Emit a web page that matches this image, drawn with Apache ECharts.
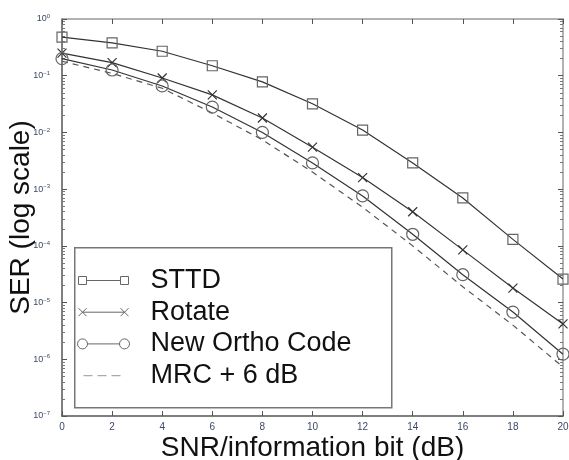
<!DOCTYPE html>
<html>
<head>
<meta charset="utf-8">
<script src="https://cdn.jsdelivr.net/npm/echarts@6/dist/echarts.min.js"></script>
<style>html,body{margin:0;padding:0;background:#fff}#c{width:569px;height:460px}</style>
</head>
<body>
<div id="c"></div>
<script>
const snr = [0, 2, 4, 6, 8, 10, 12, 14, 16, 18, 20];
const sttd = [0.48, 0.38, 0.27, 0.15, 0.078, 0.032, 0.011, 0.0029, 7.0e-4, 1.3e-4, 2.6e-5];
const rotate = [0.25, 0.17, 0.091, 0.046, 0.018, 0.0055, 0.0016, 4.0e-4, 8.5e-5, 1.8e-5, 4.2e-6];
const ortho = [0.2, 0.126, 0.066, 0.028, 0.010, 0.0029, 7.6e-4, 1.6e-4, 3.1e-5, 6.8e-6, 1.23e-6];
const mrc = [0.18, 0.11, 0.06, 0.022, 0.0074, 0.002, 4.8e-4, 1.0e-4, 1.9e-5, 4.0e-6, 7.3e-7];
const seriesNames = ['STTD', 'Rotate', 'New Ortho Code', 'MRC + 6 dB'];
const xTicks = [0, 2, 4, 6, 8, 10, 12, 14, 16, 18, 20];

const pair = arr => snr.map((x, i) => [x, arr[i]]);
const lineCol = '#333';
const markCol = '#666';
const tickCol = '#3d4868';
const font = 'Liberation Sans, Arial, sans-serif';

const chart = echarts.init(document.getElementById('c'), null, {renderer: 'canvas'});

function axisStyle(col) {
  return {
    axisLine: {show: true, onZero: false, lineStyle: {color: col, width: 1.5}},
    axisTick: {show: true, inside: true, length: 5, lineStyle: {color: '#555'}},
    splitLine: {show: false}
  };
}

const xMark = 'path://M0,0 L10,10 M0,10 L10,0';

chart.setOption({
  animation: false,
  backgroundColor: '#fff',
  grid: {left: 62, right: 6, top: 19, bottom: 44, containLabel: false, outerBoundsMode: 'none'},
  xAxis: [
    Object.assign({
      type: 'value', min: 0, max: 20, interval: 2,
      name: 'SNR/information bit (dB)', nameLocation: 'middle', nameGap: 18, nameMoveOverlap: false,
      nameTextStyle: {fontFamily: font, fontSize: 28, color: '#111'},
      axisLabel: {fontFamily: font, fontSize: 10, color: tickCol, margin: 6,
        formatter: v => xTicks.includes(v) ? String(v) : ''}
    }, axisStyle('#555')),
    Object.assign({
      type: 'value', min: 0, max: 20, interval: 2, position: 'top',
      axisLabel: {show: false}
    }, axisStyle('#999'))
  ],
  yAxis: [
    Object.assign({
      type: 'log', logBase: 10, min: 1e-7, max: 1, interval: 1,
      name: 'SER (log scale)', nameLocation: 'middle', nameGap: 27, nameMoveOverlap: false,
      nameTextStyle: {fontFamily: font, fontSize: 28, color: '#111'},
      minorTick: {show: true, splitNumber: 9, length: 3, lineStyle: {color: '#777'}},
      axisLabel: {
        margin: 12, fontFamily: font, color: tickCol,
        formatter: v => {
          const e = Math.round(Math.log10(v));
          return '{b|10}{s|' + (e === 0 ? '0' : '\u2212' + (-e)) + '}';
        },
        rich: {
          b: {fontFamily: font, fontSize: 9, color: tickCol},
          s: {fontFamily: font, fontSize: 6, color: tickCol, verticalAlign: 'top', padding: [0, 0, 5, 0]}
        }
      }
    }, axisStyle('#555')),
    Object.assign({
      type: 'log', logBase: 10, min: 1e-7, max: 1, interval: 1, position: 'right',
      minorTick: {show: true, splitNumber: 9, length: 3, lineStyle: {color: '#777'}},
      axisLabel: {show: false}
    }, axisStyle('#999'))
  ],
  legend: {
    orient: 'vertical', left: 77, top: 267, padding: 0, z: 10,
    itemWidth: 52, itemHeight: 10, itemGap: 4.7, selectedMode: false,
    textStyle: {fontFamily: font, fontSize: 27, color: '#111', padding: [0, 0, 0, 16]},
    data: [
      {name: seriesNames[0], icon: 'path://M0,0 L0,0 M52,10 L52,10 M1,1 L9,1 L9,9 L1,9 Z M9,5 L43,5 M43,1 L51,1 L51,9 L43,9 Z',
        itemStyle: {color: 'rgba(0,0,0,0)', borderColor: markCol, borderWidth: 1}},
      {name: seriesNames[1], icon: 'path://M0,0 L0,0 M52,10 L52,10 M1,1 L9,9 M1,9 L9,1 M5,5 L47,5 M43,1 L51,9 M43,9 L51,1',
        itemStyle: {color: 'rgba(0,0,0,0)', borderColor: markCol, borderWidth: 1}},
      {name: seriesNames[2], icon: 'path://M10,5 A5,5 0 1 1 0,5 A5,5 0 1 1 10,5 Z M10,5 L42,5 M52,5 A5,5 0 1 1 42,5 A5,5 0 1 1 52,5 Z',
        itemStyle: {color: 'rgba(0,0,0,0)', borderColor: markCol, borderWidth: 1}},
      {name: seriesNames[3], icon: 'path://M0,0 L0,0 M52,10 L52,10 M6,4.3 L15,4.3 L15,5.7 L6,5.7 Z M20,4.3 L29,4.3 L29,5.7 L20,5.7 Z M34,4.3 L43,4.3 L43,5.7 L34,5.7 Z',
        itemStyle: {color: '#aaa', borderWidth: 0}}
    ]
  },
  graphic: [{
    type: 'rect', left: 74, top: 247, z: 1,
    shape: {width: 317, height: 160},
    style: {fill: '#fff', stroke: '#777', lineWidth: 1.5}
  }],
  series: [
    {name: seriesNames[0], type: 'line', data: pair(sttd), symbol: 'rect', symbolSize: 10, z: 3,
      lineStyle: {color: lineCol, width: 1.2},
      itemStyle: {color: 'rgba(0,0,0,0)', borderColor: markCol, borderWidth: 1.2}},
    {name: seriesNames[1], type: 'line', data: pair(rotate), symbol: xMark, symbolSize: 9, z: 3,
      lineStyle: {color: lineCol, width: 1.2},
      itemStyle: {color: 'rgba(0,0,0,0)', borderColor: '#333', borderWidth: 1.2}},
    {name: seriesNames[2], type: 'line', data: pair(ortho), symbol: 'circle', symbolSize: 12, z: 3,
      lineStyle: {color: lineCol, width: 1.2},
      itemStyle: {color: 'rgba(0,0,0,0)', borderColor: markCol, borderWidth: 1.2}},
    {name: seriesNames[3], type: 'line', data: pair(mrc), symbol: 'none', z: 3,
      lineStyle: {color: '#555', width: 1.2, type: [6, 5]}}
  ]
});
</script>
</body>
</html>
